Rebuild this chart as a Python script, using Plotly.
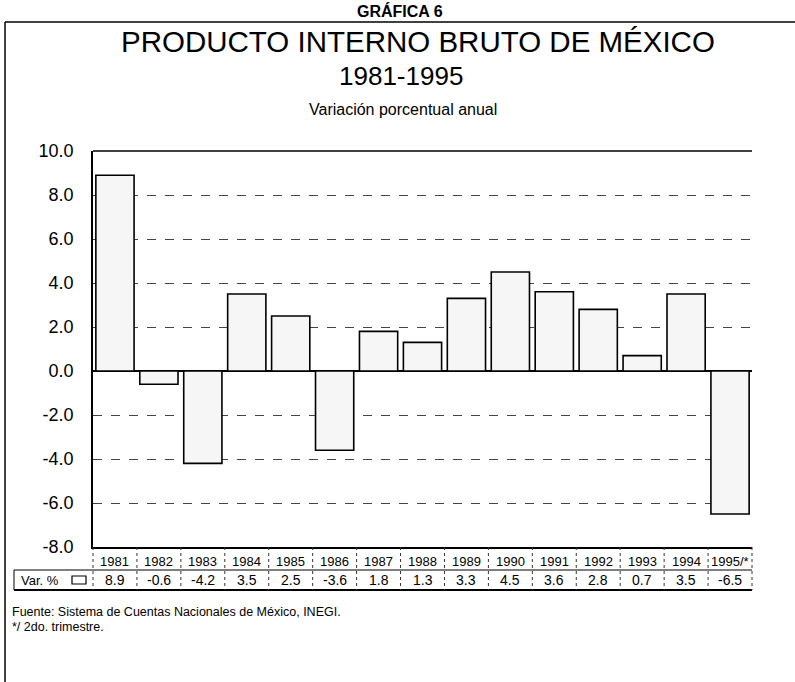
import plotly.graph_objects as go

years = ["1981", "1982", "1983", "1984", "1985", "1986", "1987", "1988",
         "1989", "1990", "1991", "1992", "1993", "1994", "1995/*"]
var_pct = [8.9, -0.6, -4.2, 3.5, 2.5, -3.6, 1.8, 1.3, 3.3, 4.5, 3.6, 2.8, 0.7, 3.5, -6.5]
value_labels = ["8.9", "-0.6", "-4.2", "3.5", "2.5", "-3.6", "1.8", "1.3",
                "3.3", "4.5", "3.6", "2.8", "0.7", "3.5", "-6.5"]
y_ticks = [10, 8, 6, 4, 2, 0, -2, -4, -6, -8]

W, H = 795, 682
L, R, T, B = 93, 752, 151, 547
FONT = "Liberation Sans, Arial, sans-serif"


def xp(px):
    return (px - L) / (R - L)


def yp(py):
    return (B - py) / (B - T)


n = len(years)
xs = list(range(n))

fig = go.Figure()
fig.add_trace(go.Bar(
    x=xs, y=var_pct,
    marker=dict(color="#f6f6f6", line=dict(color="black", width=1.6)),
    width=0.87, showlegend=False, hoverinfo="skip",
))

shapes = []
annotations = []

# outer frame
shapes.append(dict(type="line", xref="paper", yref="paper", x0=xp(5), x1=xp(797),
                   y0=yp(22), y1=yp(22), line=dict(color="black", width=1.5)))
shapes.append(dict(type="line", xref="paper", yref="paper", x0=xp(5), x1=xp(5),
                   y0=yp(22), y1=yp(690), line=dict(color="black", width=1.5)))
# top line at 10.0
shapes.append(dict(type="line", xref="paper", yref="paper", x0=0, x1=1,
                   y0=1, y1=1, line=dict(color="black", width=1.5)))

# table lines
shapes.append(dict(type="line", xref="paper", yref="paper", x0=xp(14), x1=1,
                   y0=yp(570), y1=yp(570), line=dict(color="black", width=1.2)))
shapes.append(dict(type="line", xref="paper", yref="paper", x0=xp(14), x1=1,
                   y0=yp(590), y1=yp(590), line=dict(color="black", width=1.8)))
shapes.append(dict(type="line", xref="paper", yref="paper", x0=xp(14), x1=xp(14),
                   y0=yp(570), y1=yp(590), line=dict(color="black", width=1)))
for k in range(n + 1):
    shapes.append(dict(type="line", xref="paper", yref="paper", x0=k / n, x1=k / n,
                       y0=0, y1=yp(590), line=dict(color="#333", width=1, dash="dot")))
# legend box in table
shapes.append(dict(type="rect", xref="paper", yref="paper", x0=xp(72), x1=xp(86),
                   y0=yp(576), y1=yp(584), line=dict(color="black", width=1.2),
                   fillcolor="white"))

for i, (yr, vl) in enumerate(zip(years, value_labels)):
    annotations.append(dict(x=i, xref="x", y=yp(561), yref="paper", text=yr,
                            showarrow=False, yanchor="middle",
                            font=dict(family=FONT, size=13, color="black")))
    annotations.append(dict(x=i, xref="x", y=yp(580), yref="paper", text=vl,
                            showarrow=False, yanchor="middle",
                            font=dict(family=FONT, size=14, color="black")))

annotations.append(dict(x=xp(19), xref="paper", y=yp(580), yref="paper",
                        text="Var. %", showarrow=False, xanchor="left", yanchor="middle",
                        font=dict(family=FONT, size=13, color="black")))

# titles
annotations += [
    dict(x=xp(400), y=yp(11), xref="paper", yref="paper", text="<b>GRÁFICA 6</b>",
         showarrow=False, yanchor="middle", font=dict(family=FONT, size=16, color="black")),
    dict(x=xp(418), y=yp(41), xref="paper", yref="paper",
         text="PRODUCTO INTERNO BRUTO DE MÉXICO",
         showarrow=False, yanchor="middle", font=dict(family=FONT, size=29.5, color="black")),
    dict(x=xp(401), y=yp(76), xref="paper", yref="paper", text="1981-1995",
         showarrow=False, yanchor="middle", font=dict(family=FONT, size=26, color="black")),
    dict(x=xp(403), y=yp(110), xref="paper", yref="paper",
         text="Variación porcentual anual",
         showarrow=False, yanchor="middle", font=dict(family=FONT, size=16, color="black")),
    dict(x=xp(10), y=yp(612), xref="paper", yref="paper",
         text="Fuente: Sistema de Cuentas Nacionales de México, INEGI.",
         showarrow=False, xanchor="left", yanchor="middle",
         font=dict(family=FONT, size=12.5, color="black")),
    dict(x=xp(10), y=yp(627), xref="paper", yref="paper",
         text="*/ 2do. trimestre.",
         showarrow=False, xanchor="left", yanchor="middle",
         font=dict(family=FONT, size=12.5, color="black")),
]

fig.update_layout(
    width=W, height=H,
    margin=dict(l=L, r=W - R, t=T, b=H - B, pad=0),
    paper_bgcolor="white", plot_bgcolor="white",
    bargap=0.13,
    shapes=shapes, annotations=annotations,
    xaxis=dict(range=[-0.5, n - 0.5], showticklabels=False, ticks="",
               showgrid=False, zeroline=False, showline=True,
               linecolor="black", linewidth=1.5, fixedrange=True),
    yaxis=dict(range=[-8, 10], tickvals=y_ticks,
               ticktext=[f"{v:.1f}" for v in y_ticks],
               tickfont=dict(family=FONT, size=18, color="black"),
               ticks="outside", ticklen=14, tickcolor="white",
               showgrid=True, gridcolor="#444", gridwidth=1, griddash="dash",
               zeroline=True, zerolinecolor="black", zerolinewidth=1.5,
               showline=True, linecolor="black", linewidth=1.5, fixedrange=True),
)

fig.write_html("out.html", post_script="document.body.style.margin='0px';",
               config={"displayModeBar": False})
